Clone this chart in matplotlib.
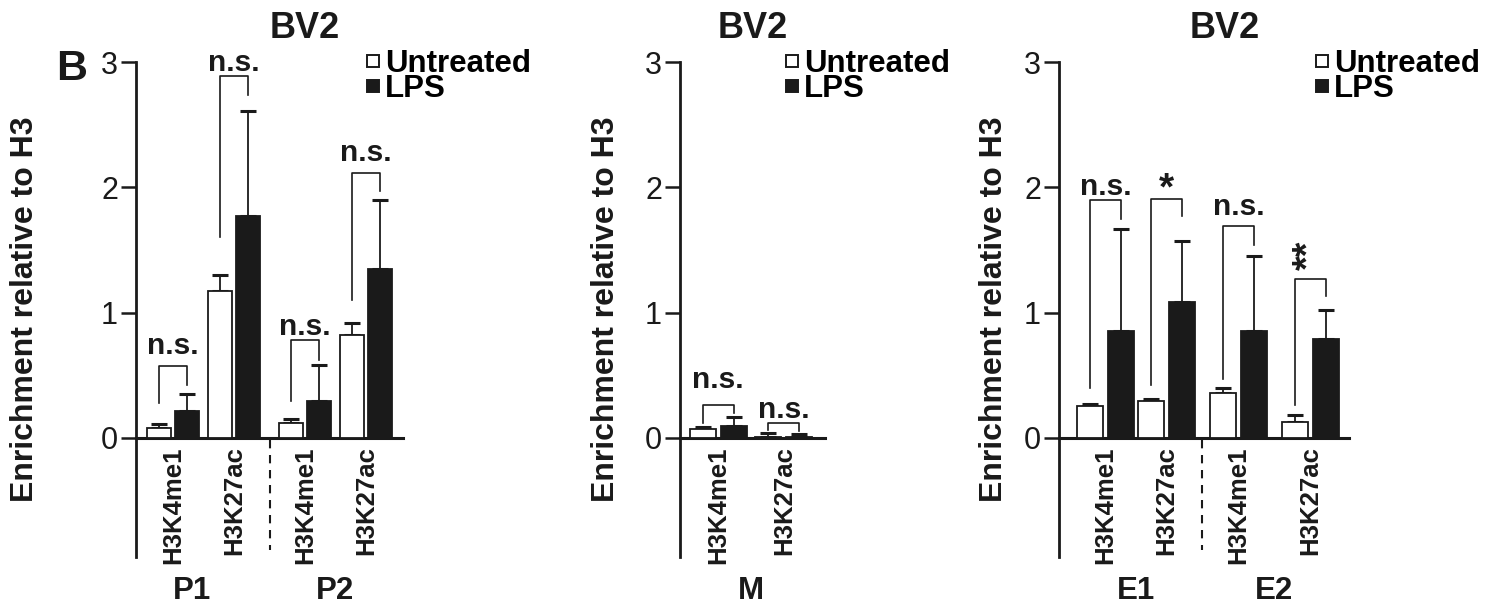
import matplotlib
matplotlib.use("Agg")
import matplotlib.pyplot as plt
from matplotlib.lines import Line2D

plt.rcParams['font.family'] = ['Liberation Sans', 'DejaVu Sans']

# ---------------- data ----------------
marks4 = ['H3K4me1', 'H3K27ac', 'H3K4me1', 'H3K27ac']
marks2 = ['H3K4me1', 'H3K27ac']

# Panel P (promoters)
p_pos = [0.0, 1.0, 2.16, 3.16]
p_untreated = [0.08, 1.17, 0.12, 0.82]
p_untreated_err = [0.03, 0.13, 0.03, 0.10]
p_lps = [0.21, 1.77, 0.29, 1.35]
p_lps_err = [0.14, 0.84, 0.29, 0.55]
p_sig = ['n.s.', 'n.s.', 'n.s.', 'n.s.']
p_br_top = [0.57, 2.89, 0.78, 2.11]
p_br_left = [0.28, 1.60, 0.29, 1.10]
p_br_right = [0.42, 2.74, 0.62, 1.97]
p_sig_y = [0.67, 2.93, 0.82, 2.21]
p_groups = ['P1', 'P2']
p_group_x = [0.31, 2.66]

# Panel M
m_pos = [0.0, 1.08]
m_untreated = [0.07, 0.01]
m_untreated_err = [0.013, 0.03]
m_lps = [0.095, 0.01]
m_lps_err = [0.07, 0.02]
m_sig = ['n.s.', 'n.s.']
m_br_top = [0.26, 0.12]
m_br_left = [0.12, 0.06]
m_br_right = [0.195, 0.055]
m_sig_y = [0.40, 0.16]
m_groups = ['M']
m_group_x = [0.54]

# Panel E (enhancers)
e_pos = [0.0, 1.0, 2.18, 3.355]
e_untreated = [0.256, 0.29, 0.355, 0.128]
e_untreated_err = [0.014, 0.02, 0.045, 0.052]
e_lps = [0.85, 1.08, 0.85, 0.79]
e_lps_err = [0.82, 0.49, 0.60, 0.23]
e_sig = ['n.s.', '*', 'n.s.', '**']
e_br_top = [1.90, 1.91, 1.69, 1.27]
e_br_left = [0.40, 0.42, 0.47, 0.26]
e_br_right = [1.75, 1.77, 1.54, 1.13]
e_sig_y = [1.94, 1.90, 1.78, 1.46]
e_groups = ['E1', 'E2']
e_group_x = [0.5, 2.77]

yticks = [0, 1, 2, 3]
title = 'BV2'
ylabel = 'Enrichment relative to H3'
legend_labels = ['Untreated', 'LPS']

# ---------------- layout ----------------
W, H, DPI = 1491, 607, 100
fig = plt.figure(figsize=(W / DPI, H / DPI), dpi=DPI)
BLACK = '#1a1a1a'
YMIN, YMAX = -0.952, 3.0


def px_axes(x0, x1, ytop=62, ybot=557):
    return fig.add_axes([x0 / W, 1 - ybot / H, (x1 - x0) / W, (ybot - ytop) / H])


def draw_panel(ax, pos, cats, unt, unt_err, lps, lps_err, sig, br_top, br_l, br_r, sig_y,
               xlim, width, off, groups, group_x, sep, title_x, legend_x, ylabel_x):
    ax.set_xlim(*xlim)
    ax.set_ylim(YMIN, YMAX)
    xs_u = [p - off for p in pos]
    xs_l = [p + off for p in pos]
    ax.bar(xs_u, unt, width=width, color='white', edgecolor=BLACK, linewidth=1.3, zorder=3)
    ax.bar(xs_l, lps, width=width, color=BLACK, edgecolor=BLACK, linewidth=1.3, zorder=3)
    capsize = 6
    ax.errorbar(xs_u, unt, yerr=[[0] * len(unt), unt_err], fmt='none', ecolor=BLACK,
                elinewidth=1.3, capsize=capsize, capthick=2.2, zorder=2)
    ax.errorbar(xs_l, lps, yerr=[[0] * len(lps), lps_err], fmt='none', ecolor=BLACK,
                elinewidth=1.3, capsize=capsize, capthick=2.2, zorder=2)
    for i in range(len(pos)):
        ax.plot([xs_u[i], xs_u[i], xs_l[i], xs_l[i]], [br_l[i], br_top[i], br_top[i], br_r[i]],
                color=BLACK, lw=1.2, zorder=4, clip_on=False)
        s = sig[i]
        xm = (xs_u[i] + xs_l[i]) / 2
        if s == '**':
            ax.text(xm - 0.02, sig_y[i], s, rotation=90, ha='center', va='center',
                    fontsize=27, fontweight='bold', color=BLACK, clip_on=False)
        elif s == '*':
            ax.text(xm, sig_y[i], s, ha='center', va='baseline',
                    fontsize=28, fontweight='bold', color=BLACK, clip_on=False)
        else:
            ax.text(xm, sig_y[i], s, ha='center', va='baseline',
                    fontsize=21.5, fontweight='bold', color=BLACK, clip_on=False)
    # axes styling
    for sp in ['top', 'right']:
        ax.spines[sp].set_visible(False)
    ax.spines['bottom'].set_position(('data', 0))
    ax.spines['bottom'].set_linewidth(2.2)
    ax.spines['left'].set_linewidth(2.0)
    ax.spines['bottom'].set_color(BLACK)
    ax.spines['left'].set_color(BLACK)
    ax.set_yticks(yticks)
    ax.set_yticklabels([str(t) for t in yticks])
    ax.tick_params(axis='y', length=11, width=1.8, pad=2, labelsize=22, colors=BLACK)
    ax.set_xticks(pos)
    ax.set_xticklabels(cats, rotation=90, fontsize=18.5, fontweight='bold', va='top')
    ax.tick_params(axis='x', length=0, pad=6, colors=BLACK)
    for s in sep:
        ax.plot([s, s], [-0.02, -0.9], color=BLACK, lw=1.5, dashes=(4, 3.2), clip_on=False)
    for g, gx in zip(groups, group_x):
        ax.text(gx, -1.22, g, ha='center', va='center', fontsize=22.5, fontweight='bold',
                color=BLACK, clip_on=False)
    ax.set_ylabel(ylabel, fontsize=23, fontweight='bold', color=BLACK)
    ax.yaxis.label.set_verticalalignment('center')
    bb = ax.get_position()
    ax.yaxis.set_label_coords((ylabel_x / W - bb.x0) / bb.width, 0.5)
    fig.text(title_x / W, 1 - 28 / H, title, ha='center', va='center', fontsize=26,
             fontweight='bold', color=BLACK)
    handles = [Line2D([], [], marker='s', ls='none', mfc='white', mec=BLACK, ms=9, mew=1.4),
               Line2D([], [], marker='s', ls='none', mfc=BLACK, mec=BLACK, ms=9, mew=1.4)]
    ax.legend(handles, legend_labels, loc='upper left',
              bbox_to_anchor=(legend_x / W, 1 - 49 / H), bbox_transform=fig.transFigure,
              frameon=False, prop=dict(weight='bold', size=22.5), handlelength=0.45,
              handletextpad=0.15, labelspacing=-0.15, borderpad=0, borderaxespad=0)


u = 61.0  # pixels per x unit
ax1 = px_axes(136, 403)
draw_panel(ax1, p_pos, marks4, p_untreated, p_untreated_err, p_lps, p_lps_err, p_sig,
           p_br_top, p_br_left, p_br_right, p_sig_y,
           xlim=((136 - 173) / u, (403 - 173) / u), width=24 / u, off=14 / u,
           groups=p_groups, group_x=p_group_x, sep=[1.59], title_x=305, legend_x=366,
           ylabel_x=25)

ax2 = px_axes(680, 825)
draw_panel(ax2, m_pos, marks2, m_untreated, m_untreated_err, m_lps, m_lps_err, m_sig,
           m_br_top, m_br_left, m_br_right, m_sig_y,
           xlim=((680 - 718) / u, (825 - 718) / u), width=26 / u, off=15.5 / u,
           groups=m_groups, group_x=m_group_x, sep=[], title_x=753, legend_x=785,
           ylabel_x=606)

ax3 = px_axes(1059, 1349)
draw_panel(ax3, e_pos, marks4, e_untreated, e_untreated_err, e_lps, e_lps_err, e_sig,
           e_br_top, e_br_left, e_br_right, e_sig_y,
           xlim=((1059 - 1105.5) / u, (1349 - 1105.5) / u), width=26 / u, off=15.5 / u,
           groups=e_groups, group_x=e_group_x, sep=[1.58], title_x=1225, legend_x=1315,
           ylabel_x=994)

fig.text(71.5 / W, 1 - 69 / H, 'B', ha='center', va='center', fontsize=31,
         fontweight='bold', color=BLACK)

fig.savefig('out.png', dpi=DPI)
